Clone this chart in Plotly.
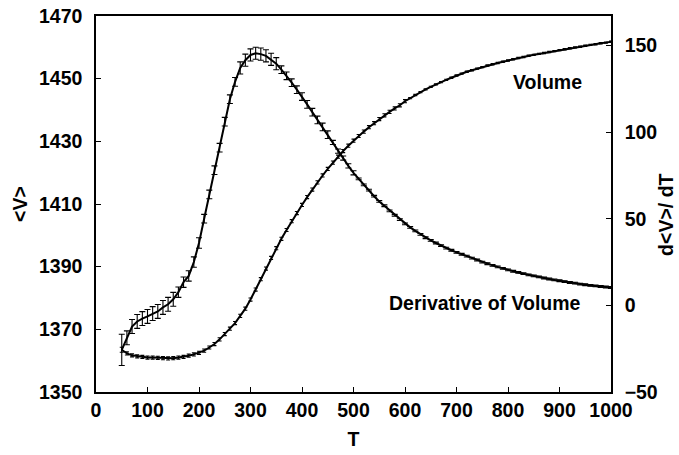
import plotly.graph_objects as go

# Temperature grid
T = list(range(50, 1001, 10))

# Mean volume <V> (left axis)
volume = [
    1363.5, 1362.3, 1361.7, 1361.4, 1361.2, 1361.0, 1361.0, 1360.9, 1360.8, 1360.7,
    1360.8, 1361.0, 1361.2, 1361.6, 1362.0, 1362.5, 1363.2, 1364.2, 1365.3, 1366.8,
    1368.5, 1370.2, 1372.0, 1374.3, 1376.6, 1379.5, 1382.7, 1386.0, 1389.4, 1392.8,
    1395.9, 1398.9, 1401.7, 1404.5, 1407.1, 1409.7, 1412.2, 1414.6, 1416.9, 1419.1,
    1421.2, 1423.2, 1425.1, 1426.9, 1428.6, 1430.2, 1431.7, 1433.1, 1434.5, 1435.8,
    1437.1, 1438.3, 1439.4, 1440.5, 1441.5, 1442.8, 1443.8, 1444.8, 1445.7, 1446.6,
    1447.4, 1448.2, 1448.9, 1449.6, 1450.3, 1451.0, 1451.6, 1452.2, 1452.7, 1453.2,
    1453.7, 1454.2, 1454.6, 1455.0, 1455.4, 1455.8, 1456.2, 1456.6, 1456.9, 1457.3,
    1457.6, 1457.9, 1458.2, 1458.5, 1458.8, 1459.1, 1459.4, 1459.7, 1460.0, 1460.2,
    1460.5, 1460.8, 1461.0, 1461.3, 1461.5, 1461.8,
]
volume_err = [0.8] + [0.5] * 55 + [0.2] * 40

# Temperature derivative d<V>/dT (right axis)
deriv = [
    -25.7, -18.7, -12.2, -9.3, -7.6, -6.4, -4.7, -3.5, -1.2, 0.6,
    3.5, 7.6, 13.4, 17.0, 25.0, 36.0, 50.0, 64.0, 78.0, 91.0,
    106.0, 119.0, 129.0, 137.0, 141.5, 144.5, 145.5, 145.0, 144.0, 142.0,
    139.5, 136.0, 132.5, 128.5, 124.5, 120.5, 116.0, 111.5, 107.0, 103.0,
    98.5, 94.0, 89.0, 85.0, 80.5, 76.5, 73.0, 69.5, 66.5, 63.0,
    60.0, 57.5, 54.5, 52.0, 49.5, 47.0, 45.0, 43.0, 41.0, 39.0,
    37.5, 36.0, 34.5, 33.0, 31.8, 30.6, 29.5, 28.4, 27.3, 26.2,
    25.0, 24.0, 23.1, 22.2, 21.3, 20.5, 19.7, 19.0, 18.3, 17.6,
    17.0, 16.4, 15.8, 15.2, 14.7, 14.2, 13.7, 13.2, 12.8, 12.3,
    11.9, 11.5, 11.2, 10.9, 10.6, 10.3,
]
deriv_err = (
    [9.0] + [4.0] * 10 + [3.0] * 5 + [2.5] * 7 + [3.5] * 8
    + [2.2] * 10 + [1.2] * 5 + [0.5] * 50
)

x_ticks = list(range(0, 1001, 100))
left_ticks = list(range(1350, 1471, 20))
right_ticks = [-50, 0, 50, 100, 150]

FONT = "Liberation Sans, Arial, sans-serif"
FS = 19.5
tick_font = dict(family=FONT, size=FS, color="black", weight="bold")
title_font = dict(family=FONT, size=FS, color="black")

fig = go.Figure()

fig.add_trace(go.Scatter(
    x=T, y=volume, mode="lines", yaxis="y",
    line=dict(color="black", width=2),
    error_y=dict(type="data", array=volume_err, color="black", thickness=1.1, width=2),
    showlegend=False,
))

fig.add_trace(go.Scatter(
    x=T, y=deriv, mode="lines", yaxis="y2",
    line=dict(color="black", width=2),
    error_y=dict(type="data", array=deriv_err, color="black", thickness=1.1, width=3),
    showlegend=False,
))

fig.add_annotation(x=876, y=1448.8, xref="x", yref="y", text="<b>Volume</b>",
                   showarrow=False, font=title_font)
fig.add_annotation(x=755, y=1378.5, xref="x", yref="y", text="<b>Derivative of Volume</b>",
                   showarrow=False, font=title_font)

# right-hand axis title, placed just outside the tick labels
fig.add_annotation(x=1.108, y=0.47, xref="paper", yref="paper",
                   xanchor="center", yanchor="middle",
                   text="<b>d&lt;V&gt;/ dT</b>", textangle=-90,
                   showarrow=False, font=title_font)

fig.update_layout(
    width=679, height=455,
    margin=dict(l=96, r=68, t=16, b=63, autoexpand=False),
    paper_bgcolor="white", plot_bgcolor="white",
    xaxis=dict(
        range=[0, 1000], tickvals=x_ticks, ticks="inside", ticklen=5,
        tickcolor="black", showline=True, linecolor="black", linewidth=1.5,
        mirror=True, showgrid=False, zeroline=False, tickfont=tick_font,
        automargin=False,
        title=dict(text="<b>T</b>", font=title_font, standoff=12),
    ),
    yaxis=dict(
        range=[1350, 1470], tickvals=left_ticks, ticks="inside", ticklen=5,
        tickcolor="black", showline=True, linecolor="black", linewidth=1.5,
        showgrid=False, zeroline=False, tickfont=tick_font, ticklabelstandoff=8,
        automargin=False,
        title=dict(text="<b>&lt;V&gt;</b>", font=title_font, standoff=6),
    ),
    yaxis2=dict(
        range=[-50, 167], tickvals=right_ticks, ticks="inside", ticklen=5,
        tickcolor="black", showline=True, linecolor="black", linewidth=1.5,
        overlaying="y", side="right", showgrid=False, zeroline=False,
        tickfont=tick_font, ticklabelstandoff=8, automargin=False,
    ),
)

fig.write_html("out.html")
